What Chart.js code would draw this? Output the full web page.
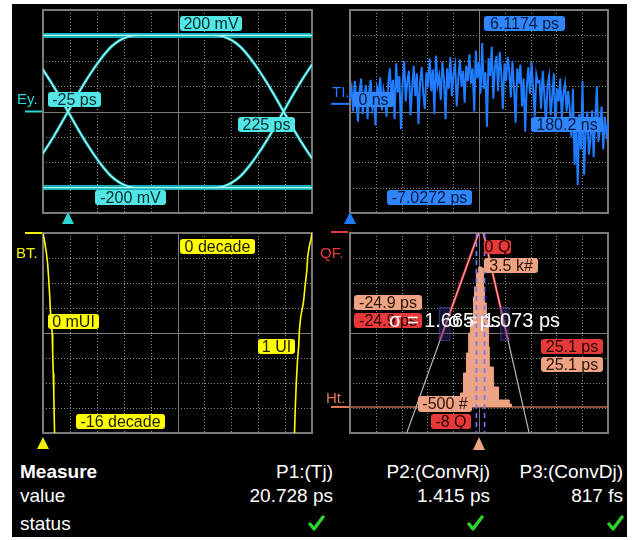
<!DOCTYPE html>
<html>
<head>
<meta charset="utf-8">
<script src="https://cdn.jsdelivr.net/npm/chart.js@4.4.0/dist/chart.umd.min.js"></script>
<style>
  html, body { margin: 0; padding: 0; background: #fff; width: 632px; height: 540px; overflow: hidden; }
  #scope { position: absolute; left: 12px; top: 4px; width: 615px; height: 533px; background: #000; }
  canvas { position: absolute; }
  .cell { position: absolute; color: #fff; font: 19px "Liberation Sans", Arial, sans-serif; line-height: 20px; white-space: nowrap; }
  .ok { position: absolute; width: 17px; height: 16px; }
</style>
</head>
<body>
<div id="scope"></div>
<canvas id="eye" width="304" height="222" style="left:12px;top:4px"></canvas>
<canvas id="tie" width="311" height="222" style="left:316px;top:4px"></canvas>
<canvas id="bath" width="304" height="230" style="left:12px;top:226px"></canvas>
<canvas id="hist" width="311" height="230" style="left:316px;top:226px"></canvas>
<div id="table"></div>
<script>
// ---------- datos ----------
// Ojo (ps, mV)
const eyeRailT      = [-54, 258];
const eyeTopRail    = [200, 200];
const eyeBottomRail = [-200, -200];
const eyeEdge1T = [-105, -95, -85, -75, -65, -55, -45, -35, -25, -15, -5, 5, 15, 25, 35, 45, 55];
const eyeEdge2T = [145, 155, 165, 175, 185, 195, 205, 215, 225, 235, 245, 255, 265, 275, 285, 295, 305];
const eyeRise = [-200, -197, -187, -170, -144, -113, -78, -40, 0, 40, 78, 113, 144, 170, 187, 197, 200];
const eyeFall = [200, 197, 187, 170, 144, 113, 78, 40, 0, -40, -78, -113, -144, -170, -187, -197, -200];
const eyeTags = ['200 mV', '-25 ps', '225 ps', '-200 mV'];

// TIE (ps) a lo largo de 0 .. 180.2 ns
const tieValues = [
  0.4, 1.2, -0.6, 1.8, 0.2, -1.4, 1.0, 2.0, -0.8, 0.6, 1.5, -1.2, 0.9, 1.9, -0.3, 0.5, -1.7, 1.3, 0.8, 2.1, -0.5, 1.1, 0.3, -1.0, 1.6,
  2.8, 0.4, 1.9, -1.2, 3.2, 0.9, 2.2, -2.0, 1.5, 3.4, 0.2, 1.8, 2.6, -0.9, 1.2, 3.0, 0.6, 2.4, -1.6, 1.7, 2.9, 0.8, -0.4, 2.5, 1.3,
  3.6, 1.0, 2.7, -0.8, 3.8, 1.5, 2.2, 0.3, 3.3, 1.9, -1.2, 2.8, 1.2, 3.7, 0.6, 2.4, 3.1, -0.2, 2.0, 3.5, 1.4, 2.6, 0.1, 3.0, 1.8,
  3.9, 1.6, 2.8, -0.6, 4.2, 2.0, 3.3, 0.8, 4.8, 1.2, 2.5, -1.8, 3.6, 2.2, 4.5, 0.4, 2.9, 3.8, 1.0, 4.1, 2.4, -0.4, 3.2, 1.8, 3.7,
  2.6, 0.5, 3.4, 1.2, -1.5, 2.8, 1.6, 3.1, -0.2, 2.0, -2.2, 1.4, 2.9, 0.8, 3.3, 1.1, -1.0, 2.3, 1.7,
  1.8, -0.4, 2.6, 0.8, -1.6, 1.5, 2.2, -0.9, 0.6, 2.4, -2.0, 1.2, 0.2, 2.0, -1.2, 0.9, 1.6, -0.6, 1.0,
  -0.4, -2.6, 1.2, -4.8, -1.5, -6.4, -0.8, -3.6, 1.8, -5.6, -2.2, -0.6, -4.0,
  -2.8, -0.5, -4.2, -1.2, 1.4, -3.0, -1.8, -0.2, -3.6, -1.0, -2.4, -1.6
];
const tieTags = ['6.1174 ps', '0 ns', '180.2 ns', '-7.0272 ps'];

// Bathtub (UI, décadas)
const bathLeftUI   = [0, 0.005, 0.012, 0.017, 0.021, 0.025, 0.027, 0.030, 0.034, 0.036, 0.038, 0.040, 0.043];
const bathLeftDec  = [0, -0.56, -1.5, -2.4, -3.6, -5.1, -6.0, -7.0, -8.0, -9.6, -11.2, -12.8, -16];
const bathRightUI  = [1.0, 0.996, 0.990, 0.984, 0.981, 0.974, 0.968, 0.958, 0.953, 0.951, 0.946, 0.942, 0.938, 0.935];
const bathRightDec = [0, -0.53, -1.07, -1.87, -2.96, -4.3, -5.6, -6.7, -7.8, -8.9, -10.2, -11.8, -13.9, -16];
const bathTags = ['0 decade', '0 mUI', '1 UI', '-16 decade'];

// Histograma (ps, cuentas) y ajuste Q
const histPs    = [-5.8, -5.5, -5.0, -4.2, -3.4, -2.8, -2.3, -1.5, -1.2, -0.7, -0.1, 0.7, 1.2, 1.5, 2.0, 2.6, 2.8, 3.9, 5.3, 8.2, 8.8];
const histCount = [0, 50, 350, 850, 1350, 1850, 2175, 2750, 3000, 3350, 3500, 3475, 3000, 2600, 2175, 1500, 1000, 500, 175, 75, 0];
const qLeftX  = [-0.1, -10.6, -19.6];
const qRightX = [1.2, 7.9, 13.6];
const qLevels = [0, -4.3, -8];
const meanMarks = [-0.7, 1.5];
const fitWindows = [[-10.9, -8.0], [5.8, 8.0]];
const fitWindowQ = [-2.96, -4.28];
const histTags = ['0 Q', '3.5 k#', '-24.9 ps', '-24.9 ps', '25.1 ps', '25.1 ps', '-500 #', '-8 Q'];
const sigmaTexts = ['σ = 1.665 ps', 'σ = 1.073 ps'];

// Tabla de medidas
const measureNames  = ['P1:(Tj)', 'P2:(ConvRj)', 'P3:(ConvDj)'];
const measureValues = ['20.728 ps', '1.415 ps', '817 fs'];
const measureStatus = [true, true, true];

// ---------- utilidades ----------
const FONT = '"Liberation Sans", Arial, sans-serif';
const zip = (xs, ys) => xs.map((x, i) => ({ x, y: ys[i] }));

// rejilla de osciloscopio: 10 x 8 divisiones
const scopeGrid = {
  id: 'scopeGrid',
  beforeDatasetsDraw(chart) {
    const { ctx, chartArea: a } = chart;
    ctx.save();
    ctx.strokeStyle = '#8c8c8c';
    ctx.lineWidth = 1;
    ctx.setLineDash([1, 2]);
    ctx.beginPath();
    for (let i = 1; i < 10; i++) {
      if (i === 5) continue;
      const x = Math.round(a.left + i * a.width / 10) + 0.5;
      ctx.moveTo(x, a.top); ctx.lineTo(x, a.bottom);
    }
    for (let j = 1; j < 8; j++) {
      if (j === 4) continue;
      const y = Math.round(a.top + j * a.height / 8) + 0.5;
      ctx.moveTo(a.left, y); ctx.lineTo(a.right, y);
    }
    ctx.stroke();
    ctx.setLineDash([]);
    ctx.strokeStyle = '#7a7a7a';
    ctx.beginPath();
    const cx = Math.round(a.left + a.width / 2) + 0.5, cy = Math.round(a.top + a.height / 2) + 0.5;
    ctx.moveTo(cx, a.top); ctx.lineTo(cx, a.bottom);
    ctx.moveTo(a.left, cy); ctx.lineTo(a.right, cy);
    ctx.stroke();
    ctx.lineWidth = 2;
    ctx.strokeRect(a.left, a.top, a.width, a.height);
    ctx.restore();
  }
};

function tag(ctx, text, x, y, w, h, fill, ink) {
  ctx.fillStyle = fill;
  ctx.beginPath();
  ctx.roundRect(x, y, w, h, 3);
  ctx.fill();
  ctx.fillStyle = ink;
  ctx.font = '16px ' + FONT;
  ctx.textAlign = 'center';
  ctx.textBaseline = 'middle';
  ctx.fillText(text, x + w / 2, y + h / 2 + 1);
}

// etiquetas, nombre de canal, marcador de nivel y triángulo de disparo
function overlay(o) {
  return {
    id: 'overlay',
    afterDatasetsDraw(chart) {
      const ctx = chart.ctx;
      ctx.save();
      ctx.translate(-o.ox, -o.oy);
      if (o.extra) o.extra(ctx, chart);
      o.tags.forEach(t => tag(ctx, t[0], t[1], t[2], t[3], t[4], t[5], t[6]));
      if (o.last) o.last(ctx, chart);
      // nombre
      ctx.fillStyle = o.color;
      ctx.font = '15px ' + FONT;
      ctx.textAlign = 'left';
      ctx.textBaseline = 'alphabetic';
      ctx.fillText(o.name, o.nameX, o.nameY);
      // marcador de nivel
      const my = o.markerY(chart) + o.oy;
      ctx.strokeStyle = o.color;
      ctx.lineWidth = 2;
      ctx.beginPath();
      ctx.moveTo(o.markerX[0], my); ctx.lineTo(o.markerX[1], my);
      ctx.stroke();
      // triángulo
      const tx = o.triX(chart) + o.ox;
      ctx.fillStyle = o.triColor || o.color;
      ctx.beginPath();
      ctx.moveTo(tx, o.triY[0]);
      ctx.lineTo(tx + 6, o.triY[1]);
      ctx.lineTo(tx - 6, o.triY[1]);
      ctx.closePath();
      ctx.fill();
      ctx.restore();
    }
  };
}

function opts(pad, x, y, extra) {
  return {
    responsive: false,
    animation: false,
    events: [],
    layout: { padding: pad },
    elements: { point: { radius: 0 }, line: { tension: 0 } },
    plugins: { legend: { display: false }, tooltip: { enabled: false } },
    scales: Object.assign({ x: Object.assign({ display: false }, x), y: Object.assign({ display: false }, y) }, extra || {})
  };
}

// ---------- 1) diagrama de ojo ----------
const CYAN = '#2fd6d6', CYAN_TAG = '#52e6e6', CYAN_INK = '#062c2c';
const eyeTraces = [
  { pts: zip(eyeRailT, eyeTopRail), w: 5 },
  { pts: zip(eyeRailT, eyeBottomRail), w: 5 },
  { pts: zip(eyeEdge1T, eyeRise), w: 3 },
  { pts: zip(eyeEdge1T, eyeFall), w: 3 },
  { pts: zip(eyeEdge2T, eyeRise), w: 3 },
  { pts: zip(eyeEdge2T, eyeFall), w: 3 }
];
const eyeSets = [];
eyeTraces.forEach(t => {
  eyeSets.push({ data: t.pts, borderColor: '#12b0b0', borderWidth: t.w, order: 2, tension: 0.3 });
  eyeSets.push({ data: t.pts, borderColor: '#aefefe', borderWidth: 1.3, order: 1, tension: 0.3 });
});
new Chart(document.getElementById('eye'), {
  type: 'line',
  data: { datasets: eyeSets },
  options: opts({ left: 31, right: 4, top: 6, bottom: 13 },
    { type: 'linear', min: -54, max: 258 },
    { type: 'linear', min: -266.7, max: 266.7 }),
  plugins: [scopeGrid, overlay({
    ox: 12, oy: 4, color: CYAN, name: 'Ey.', nameX: 17, nameY: 104,
    markerX: [25, 42], markerY: c => c.scales.y.getPixelForValue(0),
    triX: c => c.scales.x.getPixelForValue(eyeEdge1T[8]), triY: [212, 224],
    tags: [
      [eyeTags[0], 180, 16, 62, 15, CYAN_TAG, CYAN_INK],
      [eyeTags[1], 48, 92, 53, 15, CYAN_TAG, CYAN_INK],
      [eyeTags[2], 238, 117, 57, 15, CYAN_TAG, CYAN_INK],
      [eyeTags[3], 95, 190, 71, 15, CYAN_TAG, CYAN_INK]
    ]
  })]
});

// ---------- 2) TIE ----------
const BLUE = '#1f7bff', BLUE_TAG = '#2f86ff', BLUE_INK = '#061a3c';
new Chart(document.getElementById('tie'), {
  type: 'line',
  data: {
    labels: tieValues.map((_, i) => i),
    datasets: [{ data: tieValues, borderColor: BLUE, borderWidth: 2 }]
  },
  options: opts({ left: 34, right: 19, top: 6, bottom: 13 },
    { type: 'category', offset: false },
    { type: 'linear', min: -8.6, max: 7.4 }),
  plugins: [scopeGrid, overlay({
    ox: 316, oy: 4, color: BLUE, name: 'TI.', nameX: 332, nameY: 97,
    markerX: [331, 349], markerY: c => c.scales.y.getPixelForValue(0),
    triX: c => c.scales.x.getPixelForValue(0), triY: [212, 224],
    tags: [
      [tieTags[0], 484, 16, 81, 15, BLUE_TAG, BLUE_INK],
      [tieTags[1], 353, 92, 41, 15, BLUE_TAG, BLUE_INK],
      [tieTags[2], 531, 117, 72, 15, BLUE_TAG, BLUE_INK],
      [tieTags[3], 387, 190, 85, 15, BLUE_TAG, BLUE_INK]
    ]
  })]
});

// ---------- 3) bathtub ----------
const YEL = '#ffff00', YEL_INK = '#1c1c00';
new Chart(document.getElementById('bath'), {
  type: 'line',
  data: {
    datasets: [
      { data: zip(bathLeftUI, bathLeftDec), borderColor: YEL, borderWidth: 1.6 },
      { data: zip(bathRightUI, bathRightDec), borderColor: YEL, borderWidth: 1.6 }
    ]
  },
  options: opts({ left: 31, right: 4, top: 7, bottom: 23 },
    { type: 'linear', min: 0, max: 1 },
    { type: 'linear', min: -16, max: 0 }),
  plugins: [scopeGrid, overlay({
    ox: 12, oy: 226, color: '#f2f200', name: 'BT.', nameX: 16, nameY: 258,
    markerX: [25, 42], markerY: c => c.scales.y.getPixelForValue(0),
    triX: c => c.scales.x.getPixelForValue(0), triY: [437, 449],
    tags: [
      [bathTags[0], 180, 239, 75, 15, YEL, YEL_INK],
      [bathTags[1], 48, 314, 51, 15, YEL, YEL_INK],
      [bathTags[2], 258, 339, 37, 15, YEL, YEL_INK],
      [bathTags[3], 76, 414, 89, 15, YEL, YEL_INK]
    ]
  })]
});

// ---------- 4) histograma + ajuste Q ----------
const SALMON = '#efa385', RED = '#e63a3a', RED_INK = '#2a0000', SAL_INK = '#2a1206';
const histSets = [
  { data: [{ x: -35, y: 0 }, { x: 35, y: 0 }], borderColor: '#b86a4e', borderWidth: 1.6, order: 10 },
  { data: zip(histPs, histCount), borderColor: SALMON, backgroundColor: SALMON, borderWidth: 1,
    fill: 'origin', stepped: true, order: 9 },
  { data: zip(qLeftX.slice(1), qLevels.slice(1)), yAxisID: 'q', borderColor: '#b5b5b5', borderWidth: 1.2, order: 8 },
  { data: zip(qRightX.slice(1), qLevels.slice(1)), yAxisID: 'q', borderColor: '#b5b5b5', borderWidth: 1.2, order: 8 },
  { data: zip(qLeftX.slice(0, 2), qLevels.slice(0, 2)), yAxisID: 'q', borderColor: RED, borderWidth: 2.4, order: 7 },
  { data: zip(qRightX.slice(0, 2), qLevels.slice(0, 2)), yAxisID: 'q', borderColor: RED, borderWidth: 2.4, order: 7 },
  { data: zip(qLeftX.slice(0, 2), qLevels.slice(0, 2)), yAxisID: 'q', borderColor: 'rgba(255,230,230,0.85)', borderWidth: 0.8, order: 6 },
  { data: zip(qRightX.slice(0, 2), qLevels.slice(0, 2)), yAxisID: 'q', borderColor: 'rgba(255,230,230,0.85)', borderWidth: 0.8, order: 6 }
];
meanMarks.forEach(m => histSets.push({
  data: [{ x: m, y: 0 }, { x: m, y: -8 }], yAxisID: 'q',
  borderColor: '#7676ff', borderWidth: 1.6, borderDash: [5, 4], order: 5
}));

new Chart(document.getElementById('hist'), {
  type: 'line',
  data: { datasets: histSets },
  options: opts({ left: 34, right: 19, top: 7, bottom: 23 },
    { type: 'linear', min: -35, max: 35 },
    { type: 'linear', min: -650, max: 4350 },
    { q: { type: 'linear', display: false, min: -8, max: 0 } }),
  plugins: [scopeGrid, overlay({
    ox: 316, oy: 226, color: '#e07858', triColor: SALMON, name: 'Ht.', nameX: 326, nameY: 403,
    markerX: [331, 349], markerY: c => c.scales.y.getPixelForValue(0),
    triX: c => c.scales.x.getPixelForValue(0), triY: [437, 450],
    extra(ctx, chart) {
      const sx = chart.scales.x, sq = chart.scales.q;
      // ventanas de ajuste
      ctx.fillStyle = 'rgba(40,40,120,0.45)';
      ctx.strokeStyle = 'rgba(80,80,170,0.6)';
      ctx.lineWidth = 1;
      fitWindows.forEach(w => {
        const x0 = sx.getPixelForValue(w[0]) + 316, x1 = sx.getPixelForValue(w[1]) + 316;
        const y0 = sq.getPixelForValue(fitWindowQ[0]) + 226, y1 = sq.getPixelForValue(fitWindowQ[1]) + 226;
        ctx.fillRect(x0, y0, x1 - x0, y1 - y0);
        ctx.strokeRect(x0 + 0.5, y0 + 0.5, x1 - x0, y1 - y0);
      });
      // canal QF
      ctx.fillStyle = RED;
      ctx.font = '15px ' + FONT;
      ctx.textAlign = 'left';
      ctx.textBaseline = 'alphabetic';
      ctx.fillText('QF.', 320, 258);
      ctx.strokeStyle = RED;
      ctx.lineWidth = 2;
      const qy = sq.getPixelForValue(0) + 226 - 1;
      ctx.beginPath(); ctx.moveTo(331, qy); ctx.lineTo(348, qy); ctx.stroke();
    },
    last(ctx) {
      // texto sigma superpuesto
      ctx.fillStyle = '#ffffff';
      ctx.font = '20px ' + FONT;
      ctx.textBaseline = 'alphabetic';
      ctx.textAlign = 'left';
      ctx.fillText(sigmaTexts[0], 389, 327);
      ctx.textAlign = 'right';
      ctx.fillText(sigmaTexts[1], 560, 327);
    },
    tags: [
      [histTags[0], 484, 240, 27, 14, RED, RED_INK],
      [histTags[1], 484, 258, 54, 15, SALMON, SAL_INK],
      [histTags[2], 354, 295, 68, 15, SALMON, SAL_INK],
      [histTags[3], 354, 313, 68, 15, RED, RED_INK],
      [histTags[4], 541, 339, 62, 15, RED, RED_INK],
      [histTags[5], 541, 357, 62, 15, SALMON, SAL_INK],
      [histTags[6], 418, 396, 54, 16, SALMON, SAL_INK],
      [histTags[7], 431, 414, 40, 15, RED, RED_INK]
    ]
  })]
});

// ---------- tabla ----------
const table = document.getElementById('table');
function cell(text, cls, style) {
  const d = document.createElement('div');
  d.className = cls;
  d.textContent = text;
  Object.assign(d.style, style);
  table.appendChild(d);
}
const colRight = [299, 142, 9];
const okLeft = [308, 467, 607];
cell('Measure', 'cell', { left: '20px', top: '462px', fontWeight: 'bold' });
cell('value', 'cell', { left: '20px', top: '486px' });
cell('status', 'cell', { left: '20px', top: '514px' });
measureNames.forEach((n, i) => cell(n, 'cell', { right: colRight[i] + 'px', top: '462px' }));
measureValues.forEach((v, i) => cell(v, 'cell', { right: colRight[i] + 'px', top: '486px' }));
measureStatus.forEach((s, i) => {
  if (!s) return;
  const ns = 'http://www.w3.org/2000/svg';
  const svg = document.createElementNS(ns, 'svg');
  svg.setAttribute('class', 'ok');
  svg.setAttribute('viewBox', '0 0 17 16');
  svg.style.left = okLeft[i] + 'px';
  svg.style.top = '515px';
  const p = document.createElementNS(ns, 'polyline');
  p.setAttribute('points', '2,9 6,14 15,2');
  p.setAttribute('fill', 'none');
  p.setAttribute('stroke', '#2ed12e');
  p.setAttribute('stroke-width', '3.4');
  p.setAttribute('stroke-linecap', 'round');
  p.setAttribute('stroke-linejoin', 'round');
  svg.appendChild(p);
  table.appendChild(svg);
});
</script>
</body>
</html>
